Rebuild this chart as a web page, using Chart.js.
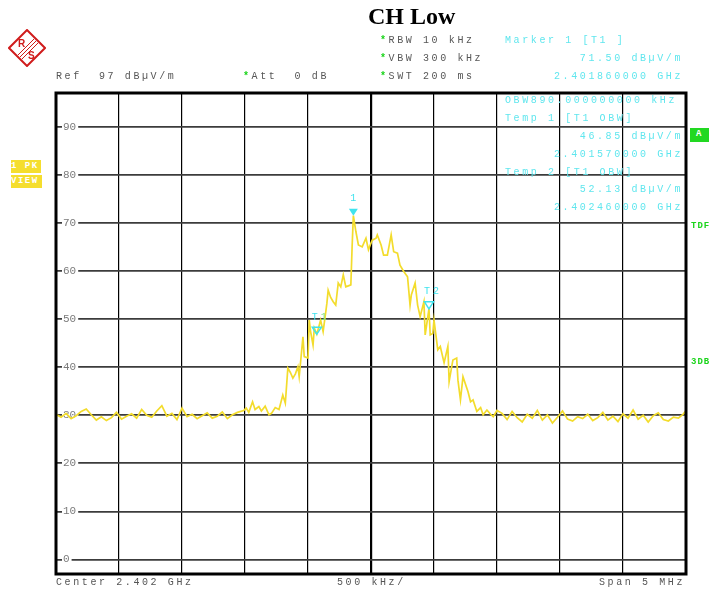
<!DOCTYPE html>
<html>
<head>
<meta charset="utf-8">
<title>CH Low</title>
<script src="https://cdn.jsdelivr.net/npm/chart.js@4.4.0/dist/chart.umd.min.js"></script>
<style>
  body { margin: 0; background: #fff; }
  #wrap { position: relative; width: 709px; height: 593px; overflow: hidden; }
  #plot { position: absolute; left: 0; top: 0; }
  .t { position: absolute; font-family: "Liberation Mono", monospace; font-size: 10px;
       letter-spacing: 2.6px; color: #555; white-space: pre; line-height: 12px; }
  .c { color: #5fe6ee; }
  .g { color: #1bd41b; }
  .star { color: #1bd41b; font-weight: bold; }
  .title { position: absolute; left: 368px; top: 3px; font-family: "Liberation Serif", serif;
           font-weight: bold; font-size: 24px; color: #000; }
  .tag { position: absolute; font-family: "Liberation Mono", monospace; font-size: 9px;
         font-weight: bold; letter-spacing: 1.5px; color: #fff; white-space: pre; line-height: 13px; }
</style>
</head>
<body>
<div id="wrap">
  <canvas id="plot" width="709" height="593"></canvas>

  <div class="title">CH Low</div>

  <svg style="position:absolute;left:8px;top:29px" width="38" height="38" viewBox="0 0 38 38">
    <polygon points="19,1 37,19 19,37 1,19" fill="none" stroke="#d01c1c" stroke-width="2"/>
    <line x1="26" y1="10" x2="10" y2="26" stroke="#d01c1c" stroke-width="1"/>
    <line x1="28" y1="12" x2="12" y2="28" stroke="#d01c1c" stroke-width="1"/>
    <line x1="30" y1="14" x2="14" y2="30" stroke="#d01c1c" stroke-width="1"/>
    <text x="10" y="18" font-family="Liberation Sans" font-weight="bold" font-size="10" fill="#d01c1c">R</text>
    <text x="20" y="30" font-family="Liberation Sans" font-weight="bold" font-size="10" fill="#d01c1c">S</text>
  </svg>

  <div class="t" style="left:56px;top:71px">Ref  97 dBµV/m</div>
  <div class="t" style="left:243px;top:71px"><span class="star">*</span>Att  0 dB</div>

  <div class="t" style="left:380px;top:35px"><span class="star">*</span>RBW 10 kHz</div>
  <div class="t" style="left:380px;top:53px"><span class="star">*</span>VBW 300 kHz</div>
  <div class="t" style="left:380px;top:71px"><span class="star">*</span>SWT 200 ms</div>

  <div class="t c" style="left:505px;top:35px">Marker 1 [T1 ]</div>
  <div class="t c" style="right:26px;top:53px">71.50 dBµV/m</div>
  <div class="t c" style="right:26px;top:71px">2.401860000 GHz</div>

  <div class="t c" style="left:505px;top:95px">OBW890.000000000 kHz</div>
  <div class="t c" style="left:505px;top:113px">Temp 1 [T1 OBW]</div>
  <div class="t c" style="right:26px;top:131px">46.85 dBµV/m</div>
  <div class="t c" style="right:26px;top:149px">2.401570000 GHz</div>
  <div class="t c" style="left:505px;top:167px">Temp 2 [T1 OBW]</div>
  <div class="t c" style="right:26px;top:184px">52.13 dBµV/m</div>
  <div class="t c" style="right:26px;top:202px">2.402460000 GHz</div>

  <div class="tag" style="left:11px;top:160px;width:30px;background:#f5de2e">1 PK</div>
  <div class="tag" style="left:11px;top:175px;width:31px;background:#f5de2e">VIEW</div>
  <div class="tag" style="left:690px;top:128px;width:19px;height:14px;background:#22d822;text-align:center">A</div>
  <div class="t g" style="left:691px;top:220px;font-size:9px;font-weight:bold;letter-spacing:1px">TDF</div>
  <div class="t g" style="left:691px;top:356px;font-size:9px;font-weight:bold;letter-spacing:1px">3DB</div>

  <div class="t" style="left:56px;top:577px">Center 2.402 GHz</div>
  <div class="t" style="left:337px;top:577px">500 kHz/</div>
  <div class="t" style="right:24px;top:577px">Span 5 MHz</div>
</div>

<script>
// trace: frequency in MHz, level in dBµV/m
const freqMHz = [
  // noise floor, left
  2399.50, 2399.54, 2399.58, 2399.62, 2399.66, 2399.70, 2399.74, 2399.78, 2399.82, 2399.86,
  2399.90, 2399.94, 2399.98, 2400.02, 2400.06, 2400.10, 2400.14, 2400.18, 2400.22, 2400.26,
  2400.30, 2400.34, 2400.38, 2400.42, 2400.46, 2400.50, 2400.54, 2400.58, 2400.62, 2400.66,
  2400.70, 2400.74, 2400.78, 2400.82, 2400.86, 2400.90, 2400.94,
  // signal
  2400.99, 2401.01, 2401.03, 2401.06, 2401.08, 2401.11, 2401.13, 2401.16, 2401.19, 2401.21,
  2401.24, 2401.27, 2401.30, 2401.32, 2401.34, 2401.36, 2401.38, 2401.40, 2401.42, 2401.43,
  2401.46, 2401.47, 2401.50, 2401.51, 2401.52, 2401.54, 2401.55, 2401.57, 2401.60, 2401.62,
  2401.64, 2401.65, 2401.66, 2401.68, 2401.70, 2401.72, 2401.74, 2401.76, 2401.78, 2401.80,
  2401.82, 2401.84, 2401.85, 2401.86, 2401.88, 2401.90, 2401.93, 2401.96, 2401.98, 2402.00,
  2402.01, 2402.04, 2402.05, 2402.08, 2402.10, 2402.13, 2402.16, 2402.18, 2402.21, 2402.23,
  2402.26, 2402.29, 2402.31, 2402.32, 2402.35, 2402.37, 2402.39, 2402.42, 2402.43, 2402.46,
  2402.47, 2402.49, 2402.50, 2402.53, 2402.55, 2402.58, 2402.61, 2402.62, 2402.65, 2402.68,
  2402.69, 2402.71, 2402.73, 2402.77, 2402.79, 2402.81, 2402.84, 2402.87, 2402.89, 2402.92,
  2402.95, 2402.97, 2403.00,
  // noise floor, right
  2403.04, 2403.08, 2403.12, 2403.16, 2403.20, 2403.24, 2403.28, 2403.32, 2403.36, 2403.40,
  2403.44, 2403.48, 2403.52, 2403.56, 2403.60, 2403.64, 2403.68, 2403.72, 2403.76, 2403.80,
  2403.84, 2403.88, 2403.92, 2403.96, 2404.00, 2404.04, 2404.08, 2404.12, 2404.16, 2404.20,
  2404.24, 2404.28, 2404.32, 2404.36, 2404.40, 2404.44, 2404.48, 2404.50
];
const levelDb = [
  30.2, 29.6, 30.4, 29.3, 29.9, 30.8, 31.3, 30.1, 29.0, 29.7,
  28.9, 29.5, 30.6, 29.2, 29.8, 30.3, 29.4, 31.2, 30.0, 29.6,
  30.9, 32.0, 29.8, 30.4, 29.1, 31.5, 29.7, 30.2, 29.3, 29.9,
  30.5, 29.4, 29.8, 30.7, 29.3, 30.1, 30.6,

  31.0, 31.5, 30.6, 32.8, 31.2, 31.8, 30.9, 31.9, 30.1, 30.4,
  31.6, 31.2, 34.2, 32.5, 39.8, 38.9, 37.7, 38.6, 40.1, 38.0,
  46.3, 42.2, 41.9, 49.8, 47.5, 44.6, 48.1, 46.85, 49.8, 47.4,
  51.3, 53.3, 56.0, 54.5, 53.6, 52.9, 57.5, 56.7, 59.2, 56.7,
  56.9, 57.1, 65.0, 71.5, 68.2, 65.4, 65.0, 66.8, 64.4, 65.8,
  66.4, 66.8, 67.5, 65.4, 63.3, 63.3, 67.5, 64.0, 63.7, 61.2,
  59.9, 58.8, 52.9, 55.0, 57.5, 52.9, 50.5, 53.6, 46.7, 52.13,
  46.7, 47.0, 49.8, 43.6, 44.3, 40.9, 44.3, 37.0, 41.5, 41.9,
  37.3, 33.2, 38.0, 34.9, 32.8, 33.2, 30.8, 31.6, 30.1, 31.1,
  30.2, 29.7, 31.0,

  30.4, 29.1, 30.8, 29.5, 28.6, 30.2, 29.4, 31.0, 29.0, 30.1,
  28.4, 29.6, 30.9, 29.2, 28.8, 29.7, 29.3, 30.2, 28.9, 29.5,
  30.6, 29.0, 29.8, 28.7, 30.3, 29.4, 31.1, 29.2, 30.0, 28.6,
  29.9, 30.5, 29.1, 28.8, 29.6, 29.4, 30.3, 31.0
];

// markers
const markerNames = ['1', 'T1', 'T2'];
const markerFreq = [2401.86, 2401.57, 2402.46];
const markerLevel = [71.5, 46.85, 52.13];
const markerFilled = [true, false, false];

// grid: 500 kHz/div, 10 dB/div, Ref 97 dBµV/m
const xTicks = [2399.5, 2400.0, 2400.5, 2401.0, 2401.5, 2402.0, 2402.5, 2403.0, 2403.5, 2404.0, 2404.5];
const yTicks = [0, 10, 20, 30, 40, 50, 60, 70, 80, 90];

const CYAN = '#3fe3ee';

const framePlugin = {
    id: 'frame',
    afterDatasetsDraw(chart) {
        const { ctx, chartArea: a, scales } = chart;
        ctx.save();

        // marker triangles and names
        markerNames.forEach((name, i) => {
            const px = scales.x.getPixelForValue(markerFreq[i]);
            const py = scales.y.getPixelForValue(markerLevel[i]);
            ctx.beginPath();
            ctx.moveTo(px, py);
            ctx.lineTo(px - 4.5, py - 7);
            ctx.lineTo(px + 4.5, py - 7);
            ctx.closePath();
            ctx.lineWidth = 1.5;
            ctx.strokeStyle = CYAN;
            ctx.fillStyle = CYAN;
            if (markerFilled[i]) ctx.fill(); else ctx.stroke();
            ctx.font = '10px "Liberation Mono"';
            ctx.textBaseline = 'middle';
            if (name.length > 1) {
                ctx.textAlign = 'left';
                ctx.fillText(name[0], px - 5, py - 17);
                ctx.fillStyle = name === 'T1' ? '#7be07b' : CYAN;
                ctx.fillText(name[1], px + 4, py - 17);
            } else {
                ctx.textAlign = 'center';
                ctx.fillText(name, px, py - 17);
            }
        });

        ctx.strokeStyle = '#000';
        ctx.lineWidth = 3;
        ctx.strokeRect(a.left, a.top, a.right - a.left, a.bottom - a.top);
        ctx.restore();
    }
};

new Chart(document.getElementById('plot'), {
    type: 'line',
    data: {
        datasets: [{
            data: freqMHz.map((f, i) => ({ x: f, y: levelDb[i] })),
            borderColor: '#f3dc2c',
            borderWidth: 1.7,
            pointRadius: 0,
            tension: 0
        }]
    },
    options: {
        responsive: false,
        animation: false,
        layout: { padding: { left: 42, top: 93, right: 23, bottom: 19 } },
        plugins: { legend: { display: false }, tooltip: { enabled: false } },
        scales: {
            x: {
                type: 'linear',
                min: 2399.5,
                max: 2404.5,
                afterBuildTicks: s => { s.ticks = xTicks.map(v => ({ value: v })); },
                ticks: { display: false },
                border: { display: false },
                grid: {
                    drawTicks: false,
                    color: '#000',
                    lineWidth: c => (c.tick && c.tick.value === 2402.0 ? 2.2 : 1.2)
                }
            },
            y: {
                min: -3,
                max: 97,
                afterBuildTicks: s => { s.ticks = yTicks.map(v => ({ value: v })); },
                ticks: {
                    mirror: true,
                    padding: 7,
                    color: '#7a7a7a',
                    font: { family: 'Liberation Mono', size: 11 },
                    showLabelBackdrop: true,
                    backdropColor: '#fff',
                    backdropPadding: { left: 1, right: 2, top: 0, bottom: 0 }
                },
                border: { display: false },
                grid: { drawTicks: false, color: '#3c3c3c', lineWidth: 1.8 }
            }
        }
    },
    plugins: [framePlugin]
});
</script>
</body>
</html>
